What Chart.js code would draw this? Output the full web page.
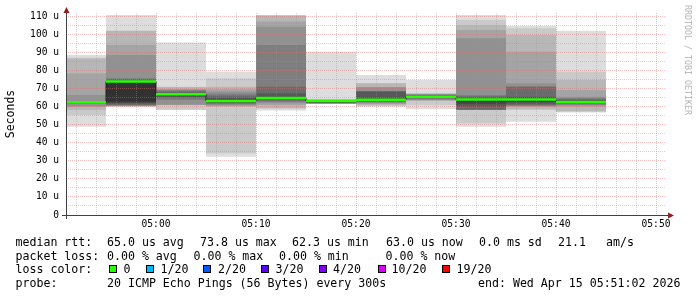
<!DOCTYPE html>
<html>
<head>
<meta charset="utf-8">
<title>smokeping</title>
<script src="https://cdn.jsdelivr.net/npm/chart.js@4.4.1/dist/chart.umd.min.js"></script>
<style>
html, body { margin:0; padding:0; background:#fff; }
#graph { position:relative; width:697px; height:297px; overflow:hidden; background:#fff; }
#chart { position:absolute; left:0; top:0; }
.t { position:absolute; font-family:"DejaVu Sans Mono", monospace; font-size:11.6px; line-height:14px; white-space:pre; color:#000; }
.sq { position:absolute; top:265px; width:6px; height:6px; border:1px solid #000; }
#wm { position:absolute; left:693px; top:5px; transform-origin:0 0; transform:rotate(90deg); font-family:"DejaVu Sans Mono", monospace; font-size:8.3px; line-height:10px; color:#b4b4b4; white-space:pre; }
</style>
</head>
<body>
<div id="graph">
  <canvas id="chart" width="697" height="297"></canvas>
  <div id="wm">RRDTOOL / TOBI OETIKER</div>

  <span class="t" style="left:15.5px;top:235px">median rtt:</span>
  <span class="t" style="left:107px;top:235px">65.0 us avg</span>
  <span class="t" style="left:200px;top:235px">73.8 us max</span>
  <span class="t" style="left:292px;top:235px">62.3 us min</span>
  <span class="t" style="left:386px;top:235px">63.0 us now</span>
  <span class="t" style="left:479px;top:235px">0.0 ms sd</span>
  <span class="t" style="left:558px;top:235px">21.1</span>
  <span class="t" style="left:606px;top:235px">am/s</span>

  <span class="t" style="left:15.5px;top:248.6px">packet loss:</span>
  <span class="t" style="left:107px;top:248.6px">0.00 % avg</span>
  <span class="t" style="left:193.5px;top:248.6px">0.00 % max</span>
  <span class="t" style="left:279px;top:248.6px">0.00 % min</span>
  <span class="t" style="left:385.5px;top:248.6px">0.00 % now</span>

  <span class="t" style="left:15.5px;top:262.3px">loss color:</span>
  <span class="sq" style="left:109px;background:#26ff00"></span><span class="t" style="left:123.5px;top:262.3px">0</span>
  <span class="sq" style="left:146px;background:#00b8ff"></span><span class="t" style="left:160.5px;top:262.3px">1/20</span>
  <span class="sq" style="left:203px;background:#0059ff"></span><span class="t" style="left:218px;top:262.3px">2/20</span>
  <span class="sq" style="left:261px;background:#5e00ff"></span><span class="t" style="left:275.5px;top:262.3px">3/20</span>
  <span class="sq" style="left:319px;background:#7e00ff"></span><span class="t" style="left:333px;top:262.3px">4/20</span>
  <span class="sq" style="left:377.5px;background:#dd00ff"></span><span class="t" style="left:391.5px;top:262.3px">10/20</span>
  <span class="sq" style="left:442px;background:#ff0000"></span><span class="t" style="left:456.5px;top:262.3px">19/20</span>

  <span class="t" style="left:15.5px;top:276px">probe:</span>
  <span class="t" style="left:107px;top:276px">20 ICMP Echo Pings (56 Bytes) every 300s</span>
  <span class="t" style="left:478px;top:276px">end: Wed Apr 15 05:51:02 2026</span>
</div>
<script>
// rrd steps (start of each 5 minute step)
var stepStart = ['04:50','04:55','05:00','05:05','05:10','05:15','05:20','05:25','05:30','05:35','05:40'];
var stepMinutes = 5;
var medianRtt = [62.3, 73.8, 66.7, 63.0, 64.7, 63.0, 63.7, 65.4, 63.8, 63.8, 62.5];
var lossCount = [0, 0, 0, 0, 0, 0, 0, 0, 0, 0, 0];

// the 20 pings of each step, sorted, in us
var ping0450 = [48.8, 55.3, 58.0, 59.9, 60.0, 61.4, 61.6, 61.9, 62.1, 62.3, 62.4, 62.6, 62.8, 62.9, 63.0, 66.3, 78.3, 86.5, 86.9, 88.4];
var ping0455 = [59.9, 60.0, 60.1, 60.2, 60.3, 60.6, 60.8, 61.5, 62.0, 62.6, 73.7, 74.2, 74.8, 75.2, 75.6, 88.4, 94.0, 101.7, 102.0, 110.6];
var ping0500 = [58.0, 58.2, 60.8, 60.9, 61.0, 63.6, 64.5, 65.2, 65.8, 66.3, 66.6, 67.0, 67.6, 68.3, 68.9, 69.3, 69.6, 70.8, 70.9, 95.3];
var ping0505 = [32.2, 34.1, 59.9, 60.3, 60.7, 61.2, 61.6, 62.0, 62.4, 62.8, 63.3, 64.0, 65.1, 66.0, 67.0, 68.2, 69.5, 70.9, 75.6, 79.2];
var ping0510 = [57.7, 58.9, 59.0, 60.8, 61.8, 62.5, 63.2, 63.8, 64.2, 64.6, 65.0, 65.4, 67.3, 70.9, 94.0, 104.1, 106.9, 110.2, 110.4, 110.6];
var ping0515 = [61.3, 61.4, 61.5, 61.6, 61.7, 61.8, 61.9, 62.1, 62.3, 62.6, 62.8, 63.0, 63.2, 63.4, 63.5, 63.6, 63.7, 63.8, 63.9, 90.3];
var ping0520 = [59.9, 60.3, 60.8, 61.3, 61.8, 62.3, 62.7, 63.0, 63.3, 63.6, 63.9, 64.5, 68.2, 68.3, 68.5, 70.6, 70.7, 72.8, 72.9, 77.4];
var ping0525 = [58.4, 60.8, 63.2, 63.3, 63.5, 64.0, 64.5, 64.9, 65.2, 65.4, 65.6, 65.9, 66.1, 66.3, 66.5, 66.7, 66.9, 67.1, 67.3, 74.6];
var ping0530 = [48.8, 50.7, 58.0, 58.0, 58.1, 58.1, 58.2, 59.9, 61.5, 63.2, 64.1, 64.5, 65.0, 65.6, 66.3, 97.7, 102.3, 105.0, 107.8, 110.6];
var ping0535 = [51.6, 58.0, 58.5, 59.9, 60.1, 60.4, 60.8, 61.5, 62.5, 63.3, 64.0, 64.8, 65.4, 70.9, 71.0, 72.8, 90.3, 99.5, 103.2, 104.5];
var ping0540 = [56.6, 57.0, 57.5, 59.9, 60.5, 61.0, 61.5, 62.0, 62.3, 62.5, 62.7, 63.0, 63.5, 64.0, 64.7, 65.4, 69.1, 74.6, 79.2, 101.9];
var pings = [ping0450, ping0455, ping0500, ping0505, ping0510, ping0515, ping0520, ping0525, ping0530, ping0535, ping0540];

// axes
var timeStart = '04:51', timeEnd = '05:51';
var timeTicks = ['05:00','05:10','05:20','05:30','05:40','05:50'];
var yTickValues = [0, 10, 20, 30, 40, 50, 60, 70, 80, 90, 100, 110];
var yTickLabels = ['0','10 u','20 u','30 u','40 u','50 u','60 u','70 u','80 u','90 u','100 u','110 u'];
var yMax = 111.66;

// loss legend
var lossLevels = [0, 1, 2, 3, 4, 10, 19];
var lossColors = ['#26ff00','#00b8ff','#0059ff','#5e00ff','#7e00ff','#dd00ff','#ff0000'];

function toMin(s){
  var p = s.split(':');
  return parseInt(p[0], 10)*60 + parseInt(p[1], 10);
}
function fmtTime(v){
  var i = timeTicks.map(toMin).indexOf(v);
  return i < 0 ? '' : timeTicks[i];
}
function lossColor(l){
  var c = lossColors[0];
  lossLevels.forEach(function(lv, i){ if (l >= lv) c = lossColors[i]; });
  return c;
}

var centers = stepStart.map(function(s){ return toMin(s) + stepMinutes/2; });
var datasets = [];

//smoke: band k spans ping k .. ping 21-k, darker toward the middle
for (var k = 1; k <= 10; k++) {
  var g = 19*(10-k) + 50;
  datasets.push({
    type: 'bar',
    label: 'smoke' + k,
    order: 20 - k,
    data: centers.map(function(c, i){ return {x: c, y: [pings[i][k-1], pings[i][20-k]]}; }),
    backgroundColor: 'rgb(' + g + ',' + g + ',' + g + ')',
    borderWidth: 0,
    inflateAmount: 0,
    grouped: false,
    barPercentage: 1,
    categoryPercentage: 1,
    clip: 0
  });
}

var medianPts = stepStart.map(function(s, i){ return {x: toMin(s), y: medianRtt[i]}; });
medianPts.push({x: toMin(stepStart[stepStart.length-1]) + stepMinutes, y: medianRtt[medianRtt.length-1]});
datasets.push({
  type: 'line',
  label: 'median',
  order: 2,
  data: medianPts,
  stepped: 'before',
  borderColor: '#202020',
  borderWidth: 1,
  pointRadius: 0,
  fill: false,
  clip: 0
});

var medianBand = 0.7;
datasets.push({
  type: 'bar',
  label: 'median rtt',
  order: 1,
  data: centers.map(function(c, i){ return {x: c, y: [medianRtt[i] - medianBand, medianRtt[i] + medianBand]}; }),
  backgroundColor: lossCount.map(lossColor),
  borderWidth: 0,
  inflateAmount: 0,
  grouped: false,
  barPercentage: 1,
  categoryPercentage: 1,
  clip: 0
});

var majorGrid = 'rgba(220,110,110,0.45)';
var minorGrid = 'rgba(150,150,150,0.4)';
var monoFont = 'DejaVu Sans Mono';

function gridColor(ctx){
  return ctx.tick && ctx.tick.value % 10 === 0 ? majorGrid : minorGrid;
}

//axis lines with the little arrows
var rrdAxes = {
  id: 'rrdAxes',
  afterDraw: function(chart){
    var a = chart.chartArea, ctx = chart.ctx;
    ctx.save();
    ctx.strokeStyle = '#404040';
    ctx.lineWidth = 1;
    ctx.beginPath();
    ctx.moveTo(a.left - 4, a.bottom + 0.5);
    ctx.lineTo(a.right + 2, a.bottom + 0.5);
    ctx.moveTo(a.left + 0.5, a.bottom + 4);
    ctx.lineTo(a.left + 0.5, a.top - 1);
    ctx.stroke();
    ctx.fillStyle = '#8f1f1f';
    ctx.beginPath();
    ctx.moveTo(a.right + 2, a.bottom - 2.5);
    ctx.lineTo(a.right + 8, a.bottom + 0.5);
    ctx.lineTo(a.right + 2, a.bottom + 3.5);
    ctx.closePath();
    ctx.fill();
    ctx.beginPath();
    ctx.moveTo(a.left - 2.5, a.top);
    ctx.lineTo(a.left + 0.5, a.top - 6);
    ctx.lineTo(a.left + 3.5, a.top);
    ctx.closePath();
    ctx.fill();
    ctx.restore();
  }
};

new Chart(document.getElementById('chart'), {
  type: 'bar',
  data: { datasets: datasets },
  options: {
    responsive: false,
    animation: false,
    layout: { padding: { top: 13, right: 31, left: 0, bottom: 0 } },
    plugins: { legend: { display: false }, tooltip: { enabled: false } },
    scales: {
      x: {
        type: 'linear',
        display: false,
        offset: false,
        grid: { offset: false },
        min: toMin(timeStart),
        max: toMin(timeEnd),
        afterBuildTicks: function(s){ s.ticks = []; }
      },
      xg: {
        type: 'linear',
        position: 'bottom',
        offset: false,
        min: toMin(timeStart),
        max: toMin(timeEnd),
        afterBuildTicks: function(s){
          var t = [];
          for (var v = toMin(timeStart) + 1; v < toMin(timeEnd); v += 2) t.push({value: v});
          s.ticks = t;
        },
        afterFit: function(s){ s.height = 82; },
        ticks: {
          autoSkip: false, maxRotation: 0, minRotation: 0, padding: 4,
          color: '#000',
          font: { family: monoFont, size: 9.6 },
          callback: function(v){ return fmtTime(v); }
        },
        grid: {
          z: 1,
          offset: false,
          drawTicks: false,
          lineWidth: 1,
          color: gridColor
        },
        border: { display: false, dash: [1, 1] }
      },
      y: {
        type: 'linear',
        min: 0,
        max: yMax,
        afterBuildTicks: function(s){
          var t = [];
          for (var v = 0; v <= yTickValues[yTickValues.length-1]; v += 5) t.push({value: v});
          s.ticks = t;
        },
        afterFit: function(s){ s.width = 66; },
        ticks: {
          autoSkip: false, padding: 7,
          color: '#000',
          font: { family: monoFont, size: 9.6 },
          callback: function(v){
            var i = yTickValues.indexOf(v);
            return i < 0 ? '' : yTickLabels[i];
          }
        },
        title: {
          display: true, text: 'Seconds', color: '#000',
          font: { family: monoFont, size: 11.5 },
          padding: { top: 4, bottom: 0 }
        },
        grid: {
          z: 1,
          drawTicks: false,
          lineWidth: 1,
          color: gridColor
        },
        border: { display: false, dash: [1, 1] }
      }
    }
  },
  plugins: [rrdAxes]
});
</script>
</body>
</html>
